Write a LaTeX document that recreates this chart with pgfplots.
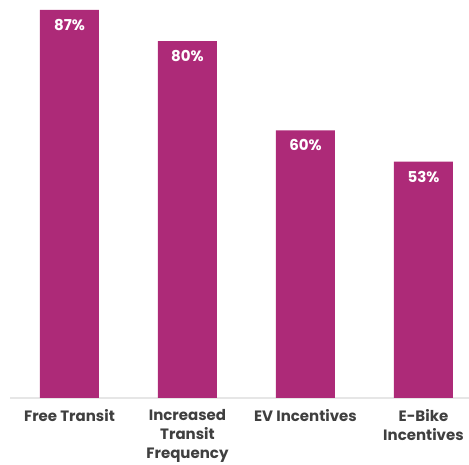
\documentclass[border=0pt]{standalone}
\usepackage{pgfplots}
\pgfplotsset{compat=1.18}
\usepackage{fontspec}
\setmainfont{Poppins}
\definecolor{barc}{HTML}{AD2A78}
\definecolor{labc}{HTML}{3F3F3F}
\definecolor{basec}{HTML}{E6E6E6}
\begin{document}
\begin{tikzpicture}
\begin{axis}[
  at={(0pt,0pt)}, anchor=south west,
  scale only axis, width=459pt, height=398pt,
  xmin=-0.504, xmax=3.386, ymin=0, ymax=89.2,
  axis y line=none, axis x line=bottom,
  x axis line style={-, draw=basec, line width=1.2pt},
  xtick={0,1,2,3}, major tick length=0pt,
  xticklabels={Free Transit, {Increased\\Transit\\Frequency}, EV Incentives, {E-Bike\\Incentives}},
  xticklabel style={align=center, font=\fontsize{15}{19}\selectfont\bfseries, text=labc, yshift=-8pt},
  /pgf/number format/assume math mode=true,
  ybar, bar width=59pt,
  nodes near coords={\pgfmathprintnumber{\pgfplotspointmeta}\%},
  every node near coord/.append style={anchor=north, yshift=-6pt, text=white, font=\fontsize{15}{17}\selectfont\bfseries},
]
\addplot[fill=barc, draw=none] coordinates {(0,87) (1,80) (2,60) (3,53)};
\end{axis}
\pgfresetboundingbox
\useasboundingbox (-10pt,-67pt) rectangle (459pt,398pt);
\end{tikzpicture}
\end{document}
